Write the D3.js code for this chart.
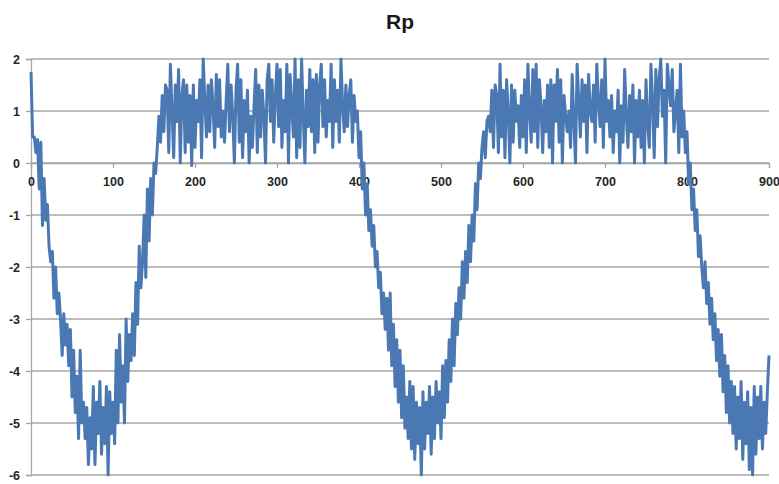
<!DOCTYPE html>
<html>
<head>
<meta charset="utf-8">
<script src="https://cdn.jsdelivr.net/npm/d3@7"></script>
<style>
  body { margin: 0; background: #fff; }
  text { font-family: "Liberation Sans", Arial, sans-serif; }
</style>
</head>
<body>
<svg></svg>
<script>
// Rp series, one value every xStep units starting at x = 0
var xStep = 2;
var rpValues = [
  1.75, 0.5, 0.5, 0.2, 0.45, -0.5, 0.4, -1.2, -0.3, -1.1,
  -0.8, -1.6, -1.9, -1.7, -2.6, -2.0, -2.9, -2.5, -3.0, -3.7,
  -2.9, -3.5, -3.1, -3.9, -3.2, -4.5, -3.6, -4.8, -4.1, -5.3,
  -3.6, -5.0, -4.6, -5.3, -4.7, -5.8, -4.9, -5.5, -4.3, -5.8,
  -4.6, -5.2, -4.2, -5.6, -4.7, -5.4, -4.3, -6.0, -4.4, -5.2,
  -4.6, -5.4, -3.6, -5.0, -3.3, -4.6, -3.9, -5.0, -3.0, -4.2,
  -3.3, -3.8, -2.9, -3.7, -2.3, -3.1, -1.6, -2.4, -1.9, -1.0,
  -2.2, -0.5, -1.5, -0.3, -1.0, 0.0, -0.2, 0.3, 0.9, 0.4,
  1.3, 0.6, 1.5, 1.4, 0.2, 1.9, 1.0, 0.1, 1.5, 0.8,
  1.8, 0.0, 1.3, 1.6, 0.2, 1.5, 0.4, 1.3, -0.05, 1.5,
  0.3, 1.2, 0.8, 1.6, 0.1, 2.0, 1.2, 0.5, 1.5, 0.6,
  1.6, 1.1, 0.3, 1.7, 0.7, 1.6, 0.5, 1.0, 0.4, 1.2,
  1.9, 0.6, 1.5, 0.9, 0.0, 1.4, 1.9, 0.4, 1.6, 0.1,
  1.2, 0.6, 1.4, 0.0, 0.9, 0.3, 1.1, 1.8, 0.2, 1.5,
  0.5, 1.4, 0.9, 0.0, 1.6, 1.9, 0.8, 1.6, 0.4, 1.3,
  1.9, 0.7, 1.8, 0.3, 1.2, 0.6, 1.9, 0.0, 1.7, 1.1,
  0.5, 2.0, 0.1, 1.6, 0.3, 2.0, 0.9, 0.0, 1.4, 0.7,
  1.8, 0.6, 1.6, 0.2, 1.7, 0.4, 1.5, 1.9, 0.7, 1.6,
  0.5, 1.2, 0.8, 1.9, 0.3, 1.6, 0.8, 1.4, 0.4, 2.0,
  1.1, 0.6, 1.5, 0.7, 1.3, 1.6, 0.4, 1.3, 0.8, 1.0,
  0.1, 0.6, -0.5, 0.0, -1.0, -0.4, -1.3, -0.9, -1.6, -1.2,
  -2.0, -1.7, -2.4, -2.1, -2.9, -2.5, -3.2, -2.6, -3.6, -2.5,
  -3.9, -3.1, -4.3, -3.4, -4.6, -3.6, -4.9, -3.9, -5.1, -4.5,
  -5.3, -4.2, -5.5, -4.3, -5.7, -4.6, -5.4, -4.7, -6.0, -4.4,
  -5.5, -4.6, -5.2, -4.3, -5.6, -4.5, -5.3, -4.2, -5.0, -4.4,
  -5.3, -3.9, -4.9, -3.8, -4.6, -3.4, -4.2, -3.0, -3.9, -2.7,
  -3.3, -2.4, -3.0, -1.9, -2.6, -1.7, -2.3, -1.2, -1.9, -1.0,
  -1.5, -0.4, -0.9, 0.0, -0.3, 0.3, 0.6, 0.1, 0.8, 0.9,
  0.6, 1.4, 0.3, 1.5, 1.3, 0.2, 1.9, 0.5, 1.4, 0.1,
  1.6, 1.0, 0.0, 1.5, 0.4, 1.4, 0.8, 1.1, 0.3, 1.3,
  0.5, 1.6, 0.2, 1.9, 1.0, 0.4, 1.8, 0.6, 1.9, 0.3,
  1.6, 1.1, 0.2, 1.2, 0.6, 1.5, 0.3, 1.6, 0.0, 1.5,
  0.8, 1.8, 0.4, 1.6, 0.0, 1.3, 0.9, 0.6, 1.0, 0.3,
  1.7, 0.8, 0.0, 1.9, 1.2, 0.5, 1.6, 0.8, 1.5, 0.2,
  1.7, 1.0, 0.8, 1.5, 0.4, 1.9, 1.2, 0.7, 1.6, 0.3,
  2.0, 0.8, 1.2, 0.5, 1.3, 0.2, 1.0, 0.6, 1.4, 0.0,
  1.1, 0.4, 1.8, 0.9, 0.3, 1.3, 0.6, 1.5, 0.0, 1.2,
  0.5, 1.4, 0.3, 1.2, 0.0, 1.6, 0.8, 0.3, 1.9, 1.2,
  0.1, 1.8, 0.7, 1.6, 2.0, 0.9, 1.4, 0.0, 1.9, 1.5,
  1.1, 1.8, 0.6, 1.0, 1.4, 0.2, 1.9, 0.5, 1.0, 0.2,
  0.6, -0.4, 0.0, -0.9, -0.5, -1.3, -0.9, -1.8, -1.4, -2.0,
  -2.4, -1.9, -2.7, -2.3, -3.1, -2.6, -3.4, -2.9, -3.8, -3.2,
  -4.1, -3.3, -4.4, -3.7, -4.8, -3.9, -5.0, -4.2, -5.2, -4.3,
  -5.5, -4.5, -5.3, -4.2, -5.7, -4.6, -5.4, -4.4, -5.9, -4.7,
  -6.0, -4.3, -5.6, -4.5, -5.3, -4.3, -5.5, -4.6, -5.2, -4.4,
  -3.7
];
var xTicks = [0, 100, 200, 300, 400, 500, 600, 700, 800, 900];
var yTicks = [-6, -5, -4, -3, -2, -1, 0, 1, 2];
var title = "Rp";

var w = 779;
var h = 484;
var margin = { top: 59, right: 10, bottom: 9, left: 31 };

var svg = d3.select("svg").attr("width", w).attr("height", h);

var x = d3.scaleLinear().domain([0, 900]).range([margin.left, w - margin.right]);
var y = d3.scaleLinear().domain([-6, 2]).range([h - margin.bottom, margin.top]);

var gridColor = "#a6a6a6";

// horizontal gridlines
svg.append("g")
    .selectAll("line")
    .data(yTicks)
    .enter()
    .append("line")
    .attr("x1", x(0))
    .attr("x2", x(900))
    .attr("y1", d => y(d))
    .attr("y2", d => y(d))
    .attr("stroke", gridColor)
    .attr("stroke-width", 1.3);

// y axis on the left
var yAxis = svg.append("g")
    .attr("transform", "translate(" + x(0) + ",0)")
    .call(d3.axisLeft(y).tickValues(yTicks).tickSize(5).tickPadding(6).tickFormat(d => String(d)));

// x axis sits on y = 0
var xAxis = svg.append("g")
    .attr("transform", "translate(0," + y(0) + ")")
    .call(d3.axisBottom(x).tickValues(xTicks).tickSize(5).tickPadding(9));

[yAxis, xAxis].forEach(function(g) {
    g.select(".domain").attr("stroke", gridColor).attr("stroke-width", 1.3);
    g.selectAll(".tick line").attr("stroke", gridColor).attr("stroke-width", 1.3);
    g.selectAll("text")
        .attr("fill", "#262626")
        .style("font-size", "12.5px")
        .style("font-weight", "bold")
        .style("font-family", "'Liberation Sans', Arial, sans-serif");
});

// the series
var line = d3.line()
    .x((d, i) => x(i * xStep))
    .y(d => y(d));

svg.append("path")
    .datum(rpValues)
    .attr("d", line)
    .attr("fill", "none")
    .attr("stroke", "#4a78b2")
    .attr("stroke-width", 3)
    .attr("stroke-linejoin", "round");

svg.append("text")
    .attr("x", (x(0) + x(900)) / 2)
    .attr("y", 29)
    .attr("text-anchor", "middle")
    .attr("fill", "#1a1a1a")
    .style("font-size", "21px")
    .style("font-weight", "bold")
    .text(title);
</script>
</body>
</html>
